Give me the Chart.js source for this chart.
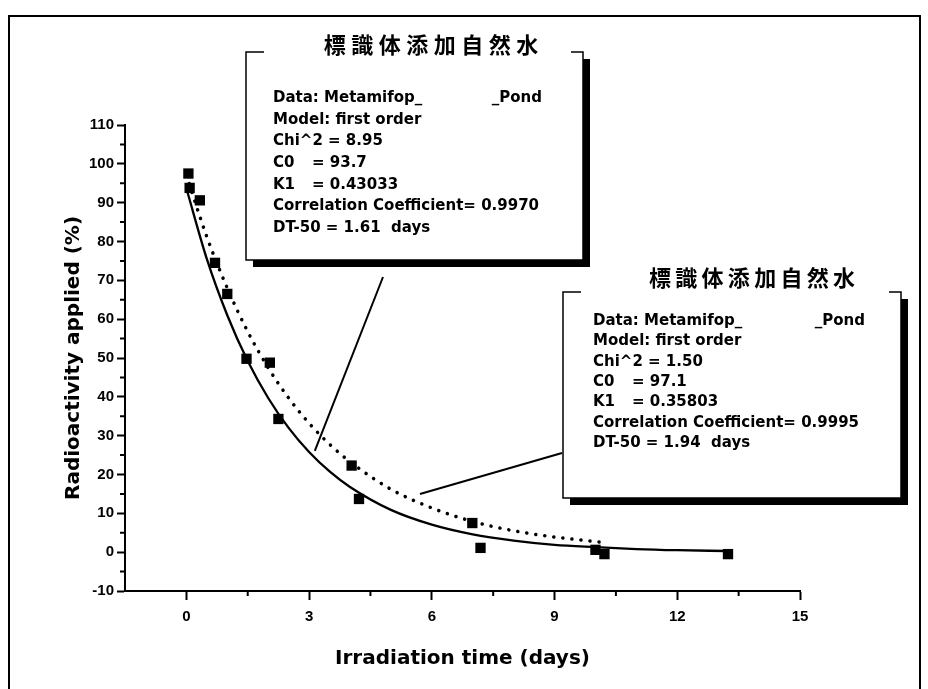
<!DOCTYPE html>
<html lang="ja">
<head>
<meta charset="UTF-8">
<title>Metamifop decay in pond water</title>
<script src="https://cdn.jsdelivr.net/npm/chart.js"></script>
<style>
  html, body { margin: 0; padding: 0; background: #fff; }
  #wrap { position: relative; width: 928px; height: 689px; overflow: hidden; }
  #frame {
    position: absolute; left: 8px; top: 15px; width: 913px; height: 700px;
    border: 2px solid #000; border-bottom: none; box-sizing: border-box; pointer-events: none;
  }
</style>
</head>
<body>
<div id="wrap">
  <canvas id="chart" width="928" height="689"></canvas>
  <div id="frame"></div>
</div>
<script>
// measured points (days, % of applied radioactivity)
const measuredDays = [0.05, 0.08, 0.33, 0.70, 1.00, 1.47, 2.04, 2.25, 4.04, 4.22, 6.99, 7.19, 10.00, 10.22, 13.24];
const measuredPct  = [97.5, 93.8, 90.6, 74.5, 66.5, 49.8, 48.8, 34.3, 22.3, 13.7, 7.5, 1.1, 0.6, -0.5, -0.5];

// solid fitted curve
const fitADays = [0, 0.5, 1, 1.5, 2, 2.5, 3, 3.5, 4, 5, 6, 7, 8, 9, 10, 11, 12, 13.2];
const fitAPct  = [93.7, 75.5, 61, 49.2, 39.7, 32, 25.8, 20.8, 16.8, 10.9, 7.1, 4.6, 3.0, 1.9, 1.3, 0.8, 0.5, 0.3];

// dotted fitted curve
const fitBDays = [0, 0.5, 1, 1.5, 2, 2.5, 3, 3.5, 4, 5, 6, 7, 8, 9, 10.2];
const fitBPct  = [97.1, 81.2, 68, 56.8, 47.5, 39.7, 33.2, 27.8, 23.3, 16.2, 11.4, 7.9, 5.5, 3.9, 2.5];

const xTicks = [0, 3, 6, 9, 12, 15];
const xMinor = [1.5, 4.5, 7.5, 10.5, 13.5];
const yTicks = [-10, 0, 10, 20, 30, 40, 50, 60, 70, 80, 90, 100, 110];
const yMinor = [-5, 5, 15, 25, 35, 45, 55, 65, 75, 85, 95, 105];

const boxTitle = '標識体添加自然水';
const boxALines = ['Model: first order', 'Chi^2 = 8.95', ['C0', '= 93.7'], ['K1', '= 0.43033'],
  'Correlation Coefficient= 0.9970', 'DT-50 = 1.61  days'];
const boxBLines = ['Model: first order', 'Chi^2 = 1.50', ['C0', '= 97.1'], ['K1', '= 0.35803'],
  'Correlation Coefficient= 0.9995', 'DT-50 = 1.94  days'];

// pointer tips in data units
const tipA = {x: 3.14, y: 26.1};
const tipB = {x: 5.71, y: 15.0};

const pts = (xs, ys) => xs.map((v, i) => ({x: v, y: ys[i]}));

const boxes = [
  {x: 246, y: 52, w: 337, h: 208, titleX: 431, titleY: 45, step: 27.5, textX: 273, textY: 98, lh: 21.7,
   pondX: 542, lines: boxALines, from: {x: 383, y: 277}, tip: tipA},
  {x: 563, y: 292, w: 338, h: 206, titleX: 752, titleY: 278, step: 26.3, textX: 593, textY: 321, lh: 20.4,
   pondX: 865, lines: boxBLines, from: {x: 562, y: 453}, tip: tipB}
];

const extras = {
  id: 'extras',
  afterDraw(chart) {
    const {ctx, chartArea: a, scales: {x, y}} = chart;
    ctx.save();
    ctx.strokeStyle = '#000';
    ctx.lineWidth = 2;
    ctx.beginPath();
    xMinor.forEach(v => { const p = x.getPixelForValue(v); ctx.moveTo(p, a.bottom); ctx.lineTo(p, a.bottom + 5); });
    yMinor.forEach(v => { const p = y.getPixelForValue(v); ctx.moveTo(a.left, p); ctx.lineTo(a.left - 5, p); });
    ctx.stroke();

    boxes.forEach(b => {
      // pointer
      ctx.lineWidth = 2;
      ctx.beginPath();
      ctx.moveTo(b.from.x, b.from.y);
      ctx.lineTo(x.getPixelForValue(b.tip.x), y.getPixelForValue(b.tip.y));
      ctx.stroke();
      // shadow + box
      ctx.fillStyle = '#000';
      ctx.fillRect(b.x + 7, b.y + 7, b.w, b.h);
      ctx.fillStyle = '#fff';
      ctx.fillRect(b.x, b.y, b.w, b.h);
      ctx.lineWidth = 1.5;
      ctx.beginPath();
      ctx.moveTo(b.x + 18, b.y); ctx.lineTo(b.x, b.y); ctx.lineTo(b.x, b.y + b.h);
      ctx.lineTo(b.x + b.w, b.y + b.h); ctx.lineTo(b.x + b.w, b.y); ctx.lineTo(b.x + b.w - 12, b.y);
      ctx.stroke();
      // title above the box
      ctx.fillStyle = '#000';
      ctx.textAlign = 'center';
      ctx.textBaseline = 'middle';
      ctx.font = 'bold 22px "Noto Sans CJK JP"';
      [...boxTitle].forEach((c, i) => ctx.fillText(c, b.titleX + (i - 3.5) * b.step, b.titleY));
      // body text
      ctx.font = 'bold 15px "DejaVu Sans"';
      ctx.textAlign = 'left';
      ctx.fillText('Data: Metamifop_', b.textX, b.textY);
      ctx.textAlign = 'right';
      ctx.fillText('_Pond', b.pondX, b.textY);
      ctx.textAlign = 'left';
      b.lines.forEach((l, i) => {
        const ty = b.textY + (i + 1) * b.lh;
        if (Array.isArray(l)) {
          ctx.fillText(l[0], b.textX, ty);
          ctx.fillText(l[1], b.textX + 39, ty);
        } else {
          ctx.fillText(l, b.textX, ty);
        }
      });
    });
    ctx.restore();
  }
};

const tickFont = {family: '"Liberation Sans", Arial, sans-serif', weight: 'bold', size: 15};
const titleFont = {family: '"DejaVu Sans", sans-serif', weight: 'bold', size: 20};

new Chart(document.getElementById('chart'), {
  type: 'scatter',
  data: {
    datasets: [
      {
        label: 'fit A', data: pts(fitADays, fitAPct), showLine: true,
        borderColor: '#000', borderWidth: 2.3, pointRadius: 0, tension: 0.4, cubicInterpolationMode: 'monotone'
      },
      {
        label: 'fit B', data: pts(fitBDays, fitBPct), showLine: true,
        borderColor: '#000', borderWidth: 3.5, borderDash: [0.1, 9], borderCapStyle: 'round',
        pointRadius: 0, tension: 0.4, cubicInterpolationMode: 'monotone'
      },
      {
        label: 'measured', data: pts(measuredDays, measuredPct),
        pointStyle: 'rect', pointRadius: 7.3, backgroundColor: '#000', borderColor: '#000', borderWidth: 0
      }
    ]
  },
  options: {
    responsive: false,
    animation: false,
    layout: {padding: {top: 125, right: 128, left: 0, bottom: 0}},
    plugins: {legend: {display: false}, tooltip: {enabled: false}},
    scales: {
      x: {
        type: 'linear', min: -1.5, max: 15,
        afterBuildTicks: s => { s.ticks = xTicks.map(v => ({value: v})); },
        afterFit: s => { s.height = 98; },
        grid: {drawOnChartArea: false, tickLength: 9, tickWidth: 2, tickColor: '#000'},
        border: {color: '#000', width: 2},
        ticks: {color: '#000', padding: 8, font: tickFont, maxRotation: 0},
        title: {display: true, text: 'Irradiation time (days)', color: '#000', font: titleFont, padding: {top: 0, bottom: 18}}
      },
      y: {
        min: -10, max: 110,
        afterBuildTicks: s => { s.ticks = yTicks.map(v => ({value: v})); },
        afterFit: s => { s.width = 125; },
        grid: {drawOnChartArea: false, tickLength: 8, tickWidth: 2, tickColor: '#000'},
        border: {color: '#000', width: 2},
        ticks: {color: '#000', padding: 3, font: tickFont},
        title: {display: true, text: 'Radioactivity applied (%)', color: '#000', font: titleFont, padding: {top: 62, bottom: 0}}
      }
    }
  },
  plugins: [extras]
});
</script>
</body>
</html>
